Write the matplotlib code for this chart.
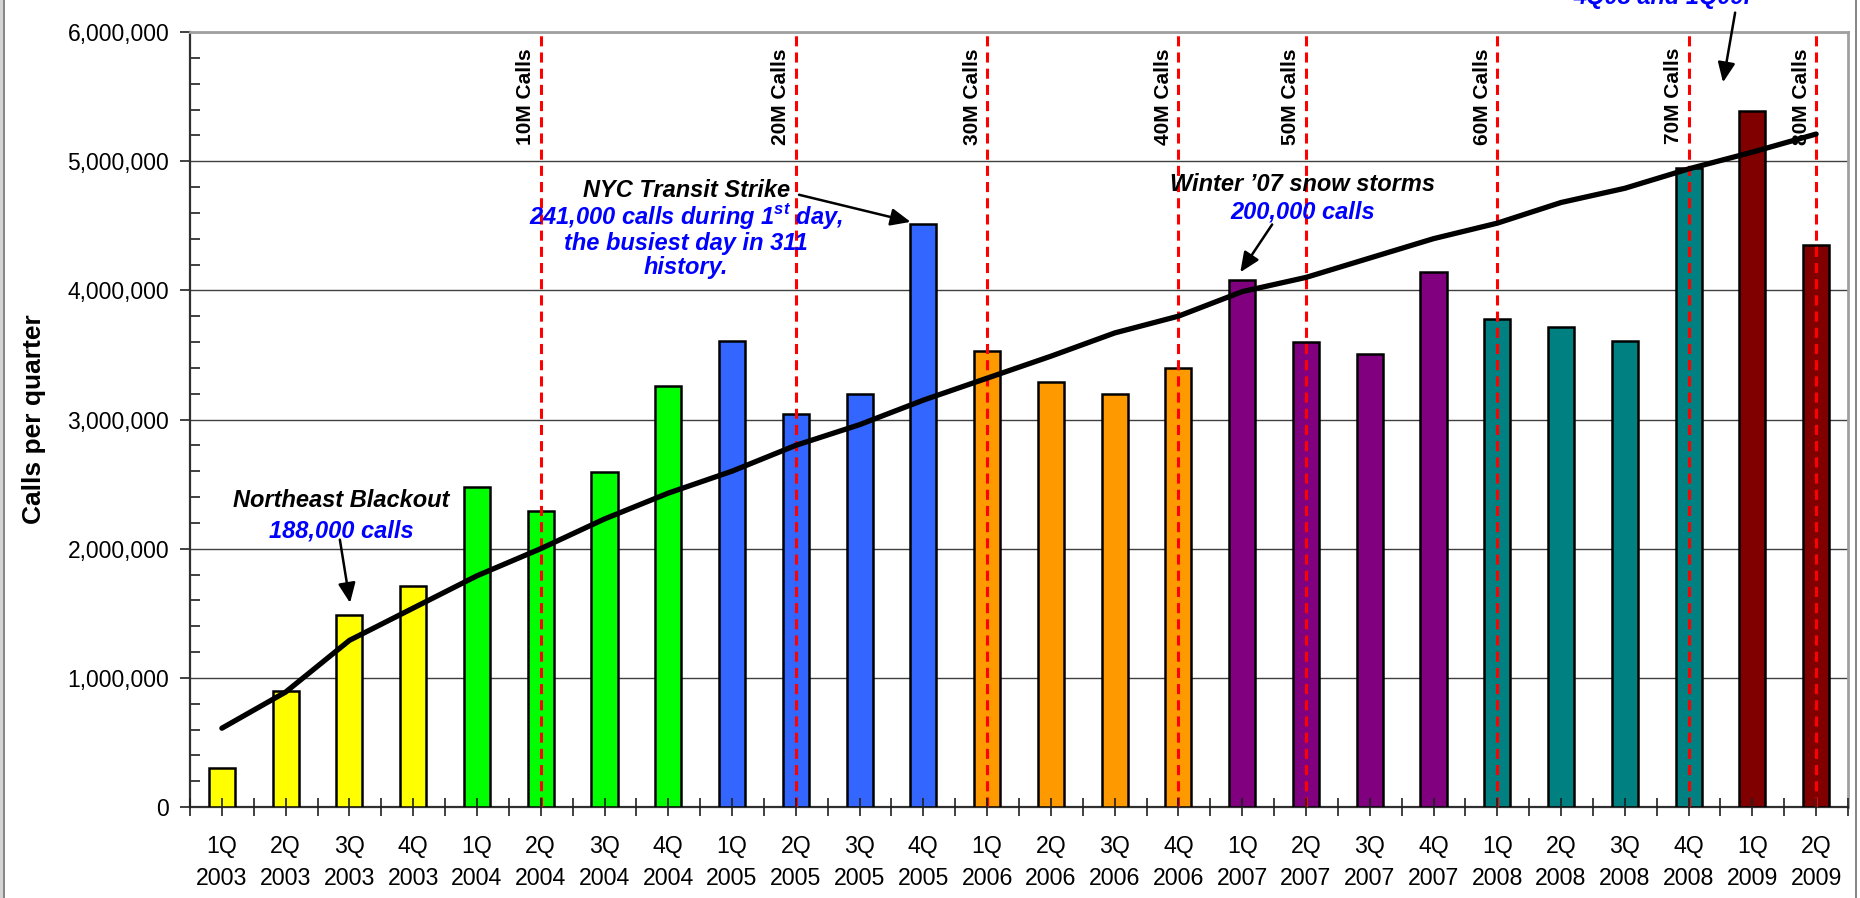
import numpy as np
import matplotlib
matplotlib.use("Agg")
import matplotlib.pyplot as plt
from matplotlib.patches import Rectangle
from matplotlib.lines import Line2D
from matplotlib.ticker import MultipleLocator, FuncFormatter

plt.rcParams['font.family'] = ['Liberation Sans', 'DejaVu Sans']
plt.rcParams['mathtext.fontset'] = 'custom'
plt.rcParams['mathtext.rm'] = 'Liberation Sans'
plt.rcParams['mathtext.bf'] = 'Liberation Sans:bold:italic'

# data
quarters = ['1Q', '2Q', '3Q', '4Q'] * 6 + ['1Q', '2Q']
years = [2003] * 4 + [2004] * 4 + [2005] * 4 + [2006] * 4 + [2007] * 4 + [2008] * 4 + [2009] * 2
calls = [300000, 900000, 1485000, 1710000,
         2480000, 2290000, 2590000, 3260000,
         3610000, 3040000, 3200000, 4510000,
         3530000, 3290000, 3200000, 3400000,
         4080000, 3600000, 3510000, 4140000,
         3780000, 3720000, 3610000, 4950000,
         5390000, 4350000]
trend = [610000, 890000, 1290000, 1540000,
         1790000, 2000000, 2230000, 2430000,
         2600000, 2800000, 2960000, 3150000,
         3320000, 3490000, 3670000, 3800000,
         3990000, 4100000, 4250000, 4400000,
         4520000, 4680000, 4790000, 4940000,
         5070000, 5210000]
year_colors = {2003: '#FFFF00', 2004: '#00FF00', 2005: '#3366FF', 2006: '#FF9900',
               2007: '#800080', 2008: '#008080', 2009: '#800000'}
milestone_idx = [5, 9, 12, 15, 17, 20, 23, 25]
milestone_labels = ['10M Calls', '20M Calls', '30M Calls', '40M Calls',
                    '50M Calls', '60M Calls', '70M Calls', '80M Calls']

fig = plt.figure(figsize=(18.6, 8.98), dpi=100)
ax = fig.add_axes([190 / 1860, 1 - 807 / 898, (1848 - 190) / 1860, (807 - 32) / 898])

x = np.arange(len(calls))
ax.bar(x, calls, width=0.41, color=[year_colors[y] for y in years],
       edgecolor='black', linewidth=1.8, zorder=3)

for i, lab in zip(milestone_idx, milestone_labels):
    ax.axvline(i, color='#FF0000', lw=2.2, dashes=(3.3, 2.0), zorder=4)
    ax.text(i - 0.235, 5.876e6, lab, rotation=90, ha='center', va='top',
            fontsize=15, fontweight='bold', zorder=6)

ax.plot(x, trend, color='black', lw=3.8, zorder=5, solid_capstyle='round',
        solid_joinstyle='round')

ax.set_xlim(-0.5, len(calls) - 0.5)
ax.set_ylim(0, 6e6)
ax.yaxis.set_major_locator(MultipleLocator(1e6))
ax.yaxis.set_minor_locator(MultipleLocator(2e5))
ax.yaxis.set_major_formatter(FuncFormatter(lambda v, p: f'{int(v):,}'))
ax.grid(axis='y', color='#404040', lw=1, zorder=0)
ax.set_axisbelow(True)
ax.xaxis.set_zorder(4.5)

ax.set_xticks(np.arange(len(calls) + 1) - 0.5)
ax.set_xticklabels([])
ax.set_xticks(x, minor=True)
ax.set_xticklabels([f'{q}\n{y}' for q, y in zip(quarters, years)], minor=True,
                   fontsize=16.7, linespacing=1.5)
ax.tick_params(axis='x', which='major', direction='inout', length=13, width=1.2, color='#202020')
ax.tick_params(axis='x', which='minor', direction='inout', length=13, width=1.2, pad=14,
               color='#202020')
ax.tick_params(axis='y', which='major', direction='out', length=7, width=1.2, pad=8,
               labelsize=16.5, color='#202020')
ax.tick_params(axis='y', which='minor', direction='in', length=7, width=1.2, color='#202020')

ax.set_ylabel('Calls per quarter', fontsize=19, fontweight='bold')
ax.yaxis.set_label_coords(-0.087, 0.5)

for s in ['left', 'bottom']:
    ax.spines[s].set_color('#303030')
    ax.spines[s].set_linewidth(1.6)
for s in ['top', 'right']:
    ax.spines[s].set_color('#A0A0A0')
    ax.spines[s].set_linewidth(2)

arrow = dict(arrowstyle='-|>,head_length=0.8,head_width=0.35', color='black',
             lw=1.8, mutation_scale=15, shrinkA=0, shrinkB=0)
black_font = dict(fontsize=17, fontweight='bold', fontstyle='italic', color='black', ha='center')
blue_font = dict(fontsize=17, fontweight='bold', fontstyle='italic', color='#0000FF', ha='center')

# Northeast Blackout
ax.text(1.87, 2.32e6, 'Northeast Blackout', va='baseline', zorder=7, **black_font)
ax.text(1.87, 2.09e6, '188,000 calls', va='baseline', zorder=7, **blue_font)
ax.annotate('', xy=(2.01, 1.58e6), xytext=(1.85, 2.07e6), arrowprops=arrow, zorder=7)

# NYC Transit Strike
ax.text(7.28, 4.72e6, 'NYC Transit Strike', va='baseline', zorder=7, **black_font)
ax.text(7.28, 4.51e6, r'241,000 calls during 1$^{\mathbf{st}}$ day,', va='baseline', zorder=7, **blue_font)
ax.text(7.28, 4.31e6, 'the busiest day in 311', va='baseline', zorder=7, **blue_font)
ax.text(7.28, 4.13e6, 'history.', va='baseline', zorder=7, **blue_font)
ax.annotate('', xy=(10.8, 4.53e6), xytext=(9.05, 4.74e6), arrowprops=arrow, zorder=7)

# Winter '07
ax.text(16.95, 4.77e6, 'Winter \u201907 snow storms', va='baseline', zorder=7, **black_font)
ax.text(16.95, 4.56e6, '200,000 calls', va='baseline', zorder=7, **blue_font)
ax.annotate('', xy=(15.97, 4.14e6), xytext=(16.47, 4.51e6), arrowprops=arrow, zorder=7)

# top right note (cut off at the top of the picture, as in the source)
ax.text(22.58, 6.22e6, '4Q08 and 1Q09.', va='baseline', clip_on=False, zorder=7, **blue_font)
ax.annotate('', xy=(23.54, 5.61e6), xytext=(23.73, 6.15e6), arrowprops=arrow,
            annotation_clip=False, zorder=7)

# chart border
fig.add_artist(Rectangle((0, 0), 3 / 1860, 1, transform=fig.transFigure,
                         facecolor='#D4D4D4', edgecolor='none'))
fig.add_artist(Line2D([3.5 / 1860] * 2, [0, 1], transform=fig.transFigure, color='#707070', lw=1.2))
fig.add_artist(Line2D([1856 / 1860] * 2, [0, 1], transform=fig.transFigure, color='#707070', lw=1.2))

fig.savefig('out.png', dpi=100)
